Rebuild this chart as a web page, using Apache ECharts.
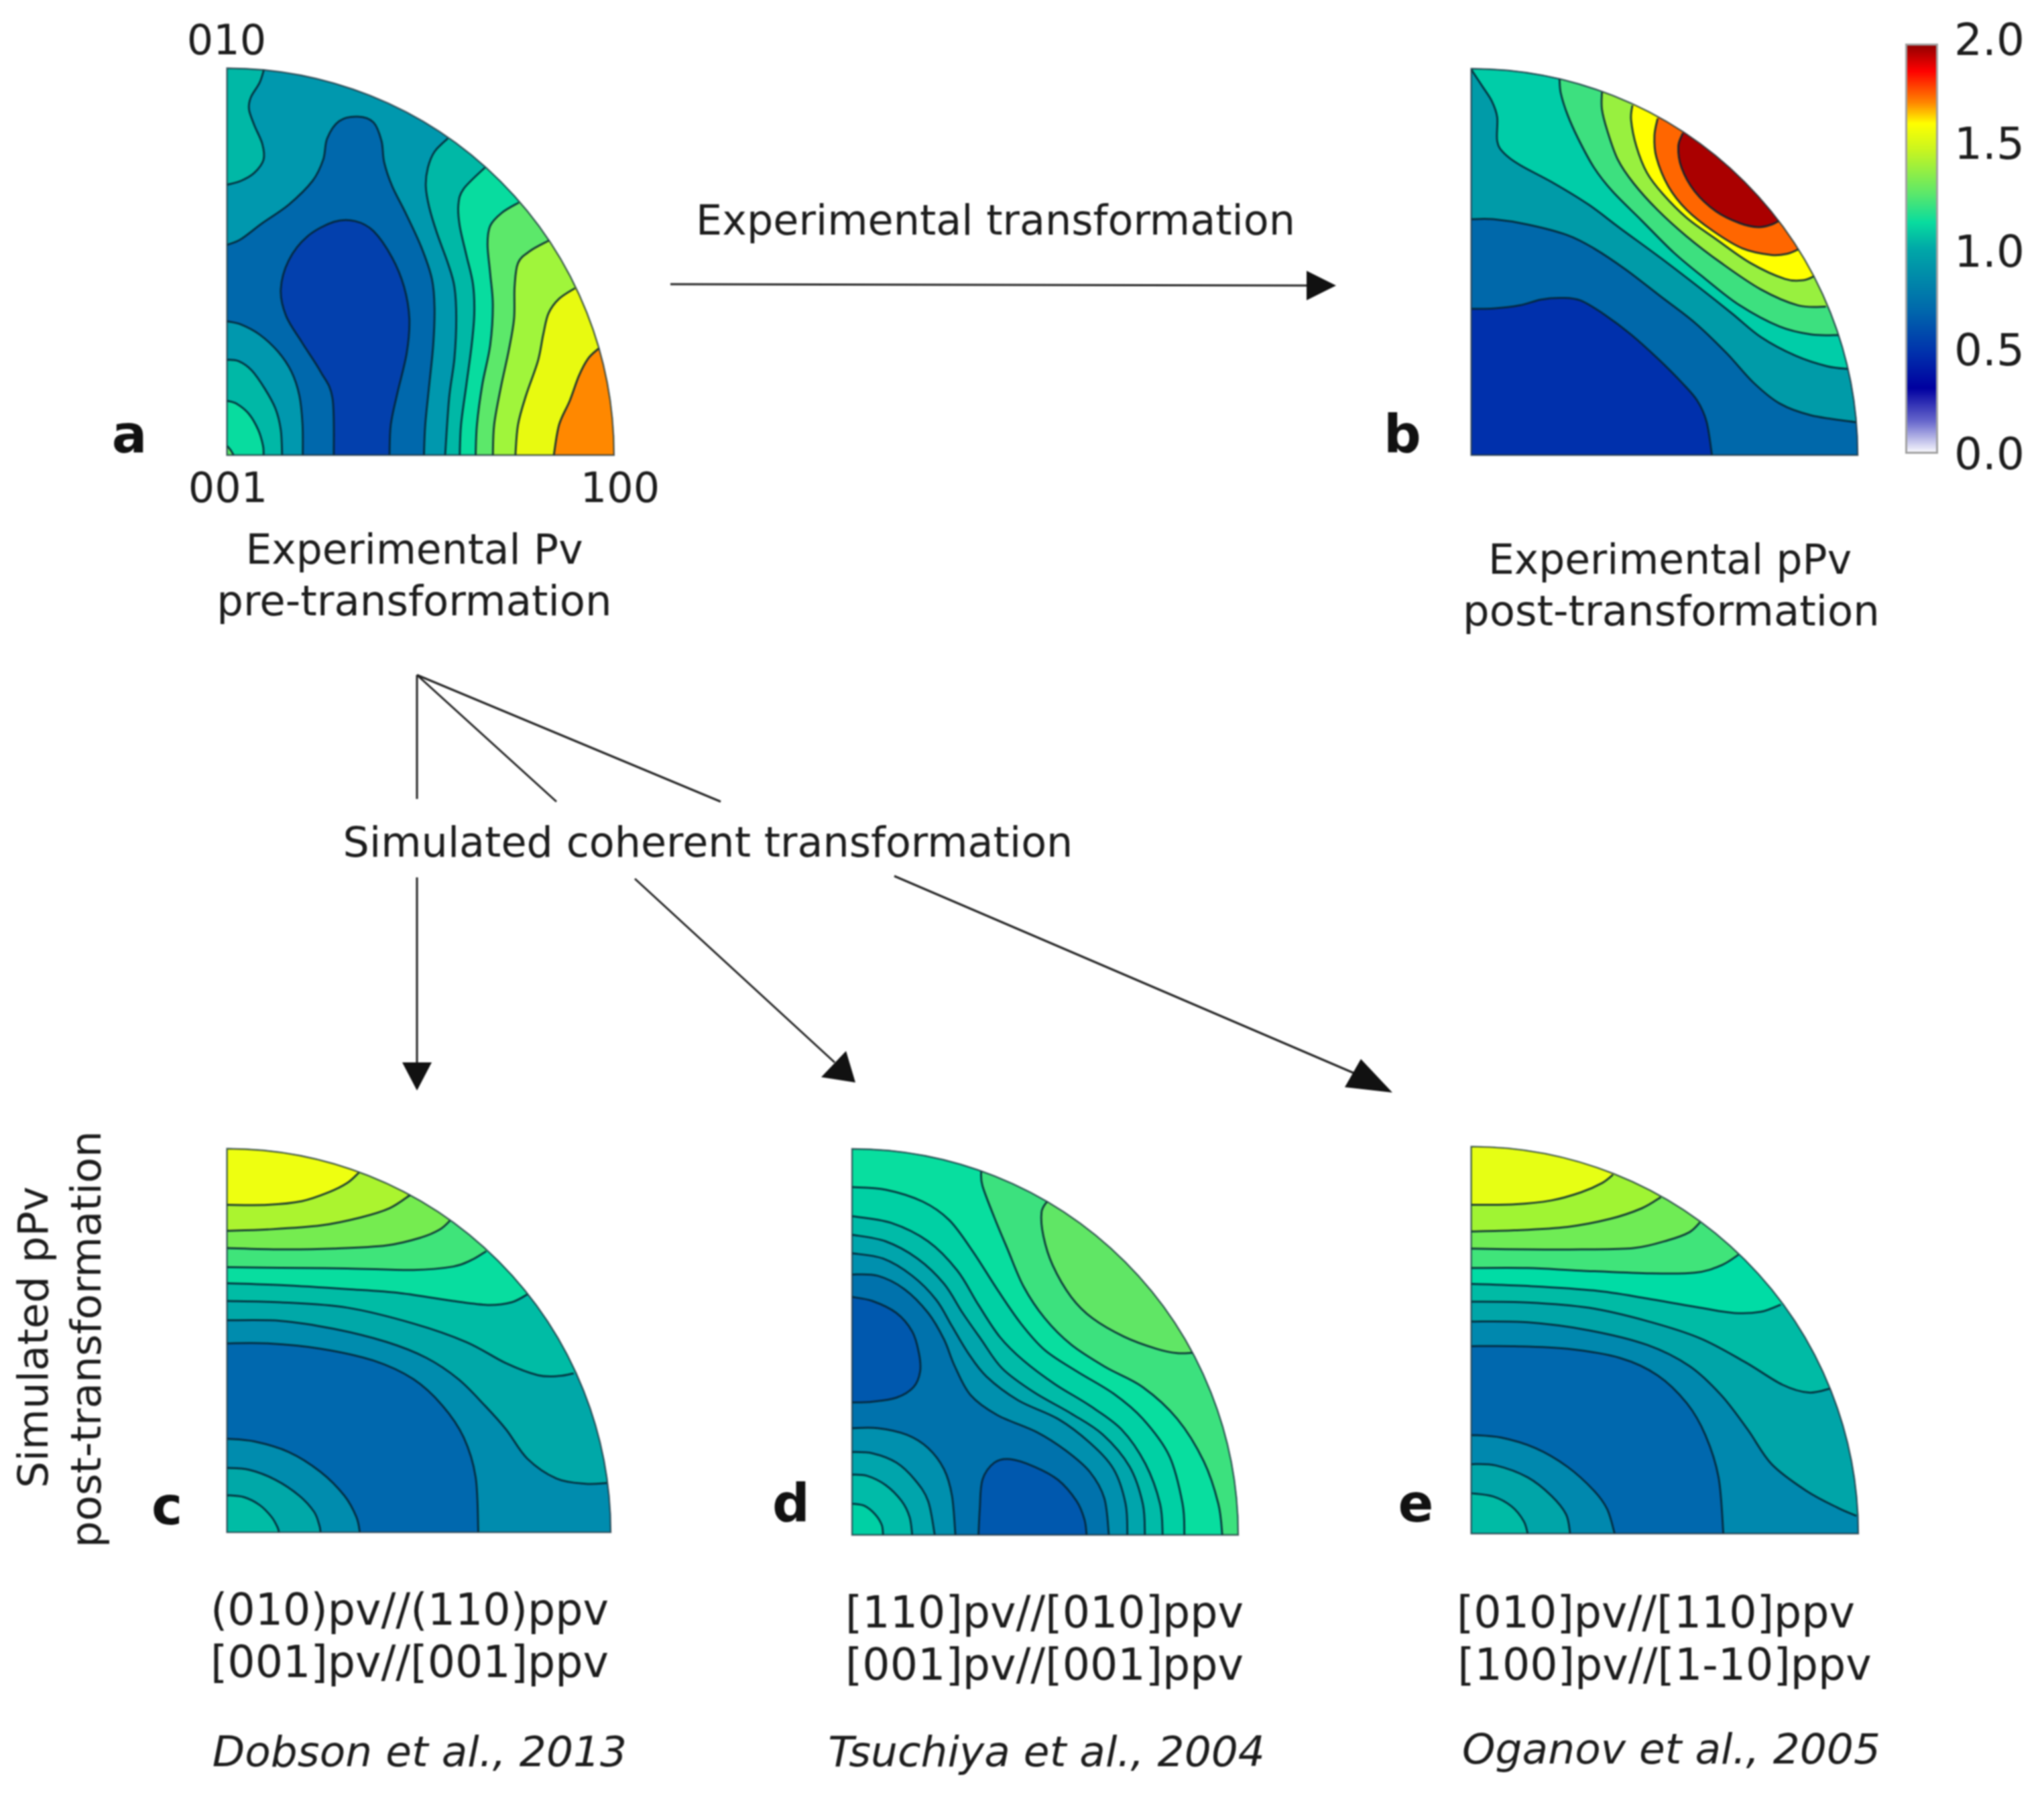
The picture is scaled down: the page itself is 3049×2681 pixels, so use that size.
<!DOCTYPE html>
<html><head><meta charset="utf-8">
<style>html,body{margin:0;padding:0;background:#fff}#c{width:3049px;height:2681px;filter:blur(0.9px)}</style>
<script src="https://cdn.jsdelivr.net/npm/echarts@6/dist/echarts.min.js"></script>
</head><body><div id="c"></div>
<script>
// Contours: [band, closure, [[x,y],...]] in each panel's digitising units.
const panelA_contours = [
 [3,'outer',[[47,495],[100,480],[150,450],[185,400],[180,340],[150,270],[130,210],[137,165],[170,110],[187,58]]],
 [1,'origin',[[47,722],[100,700],[180,640],[280,570],[370,480],[410,400],[425,320],[470,255],[540,238],[600,260],[630,330],[640,410],[670,500],[720,600],[780,730],[820,850],[830,960],[825,1100],[810,1250],[795,1400],[790,1515]]],
 [2,'origin',[[47,1010],[100,1022],[170,1060],[240,1125],[290,1200],[320,1290],[332,1400],[333,1515]]],
 [3,'origin',[[47,1155],[90,1160],[140,1195],[190,1265],[230,1340],[250,1420],[255,1515]]],
 [4,'origin',[[47,1310],[85,1322],[130,1360],[165,1420],[183,1480],[185,1515]]],
 [5,'origin',[[47,1480],[60,1495],[72,1515]]],
 [0,'flat',[[450,1515],[445,1300],[400,1200],[330,1090],[270,990],[250,890],[280,780],[350,690],[450,635],[530,632],[600,670],[670,770],[715,880],[735,1000],[725,1130],[690,1280],[665,1400],[660,1515]]],
 [3,'outer',[[880,320],[830,370],[805,430],[797,500],[810,580],[840,680],[880,790],[905,880],[912,1000],[905,1150],[885,1300],[870,1515]]],
 [4,'outer',[[1020,430],[940,510],[920,570],[925,650],[950,760],[975,870],[980,980],[970,1100],[950,1250],[930,1400],[925,1515]]],
 [5,'outer',[[1148,562],[1085,600],[1040,650],[1030,720],[1040,830],[1050,950],[1040,1100],[1010,1250],[990,1400],[985,1515]]],
 [6,'outer',[[1262,705],[1190,745],[1145,790],[1132,880],[1130,1000],[1110,1120],[1080,1260],[1055,1400],[1050,1515]]],
 [7,'outer',[[1360,885],[1300,925],[1260,980],[1240,1060],[1220,1160],[1175,1290],[1145,1400],[1135,1515]]],
 [8,'outer',[[1450,1112],[1410,1150],[1375,1215],[1340,1310],[1300,1400],[1280,1515]]]
];
const panelB_contours = [
 [1,'outer',[[37,963],[120,962],[220,950],[300,928],[380,922],[450,932],[540,985],[640,1060],[740,1150],[830,1240],[890,1310],[925,1390],[945,1515]]],
 [2,'outer',[[37,625],[120,625],[250,645],[400,685],[500,735],[620,815],[750,915],[880,1015],[1000,1130],[1100,1240],[1200,1320],[1320,1365],[1497,1392]]],
 [3,'outer',[[37,60],[80,125],[115,180],[135,240],[135,330],[160,375],[220,420],[350,490],[480,570],[600,660],[750,770],[900,885],[1020,980],[1130,1070],[1260,1140],[1380,1180],[1460,1190]]],
 [4,'outer',[[370,95],[375,150],[400,230],[440,320],[500,430],[570,520],[680,630],[800,750],[920,850],[1050,950],[1200,1030],[1320,1060],[1425,1062]]],
 [5,'outer',[[530,145],[530,210],[550,290],[590,400],[650,490],[740,590],[850,690],[980,790],[1130,890],[1270,950],[1375,955]]],
 [6,'outer',[[645,195],[640,250],[660,350],[700,450],[760,530],[850,620],[960,700],[1090,790],[1220,850],[1290,855],[1330,840]]],
 [7,'outer',[[740,245],[728,310],[735,390],[780,500],[850,590],[950,670],[1060,735],[1170,760],[1230,755],[1272,738]]],
 [8,'outer',[[835,300],[818,350],[830,430],[880,520],[960,595],[1050,640],[1120,655],[1170,645],[1200,630]]]
];
const panelC_contours = [
 [1,'outer',[[47,795],[200,795],[400,815],[600,860],[750,930],[860,1030],[940,1150],[985,1300],[995,1508]]],
 [2,'outer',[[47,708],[250,710],[450,740],[650,790],[800,850],[920,930],[1020,1030],[1100,1120],[1180,1230],[1290,1305],[1400,1325],[1480,1322]]],
 [3,'outer',[[47,635],[250,640],[500,660],[750,720],[950,790],[1100,870],[1220,915],[1300,918],[1355,908]]],
 [4,'outer',[[47,568],[250,575],[500,590],[700,605],[900,635],[1030,650],[1120,640],[1180,610]]],
 [5,'outer',[[47,507],[250,510],[500,512],[750,518],[900,505],[970,480],[1025,447]]],
 [6,'outer',[[47,435],[250,440],[450,437],[650,425],[780,395],[850,365],[888,332]]],
 [7,'outer',[[47,370],[200,365],[400,350],[550,320],[660,285],[738,235]]],
 [8,'outer',[[47,272],[200,272],[330,258],[430,225],[500,190],[545,150]]],
 [1,'origin',[[47,1155],[150,1165],[280,1205],[400,1280],[490,1370],[535,1450],[548,1508]]],
 [2,'origin',[[47,1265],[130,1272],[230,1310],[320,1370],[375,1430],[395,1480],[400,1508]]],
 [3,'origin',[[47,1368],[110,1375],[170,1405],[215,1450],[238,1490],[243,1508]]]
];
const panelD_contours = [
 [2,'outer',[[53,535],[150,540],[250,590],[340,680],[400,780],[440,880],[500,990],[600,1065],[750,1130],[860,1200],[950,1280],[1005,1380],[1022,1518]]],
 [3,'outer',[[53,455],[170,475],[280,540],[370,630],[430,730],[490,830],[560,920],[680,1010],[830,1080],[950,1170],[1040,1270],[1085,1400],[1092,1518]]],
 [4,'outer',[[53,385],[180,410],[300,475],[400,570],[470,680],[540,780],[620,890],[740,980],[880,1060],[1000,1140],[1100,1260],[1150,1400],[1158,1518]]],
 [5,'outer',[[53,315],[200,340],[340,410],[450,520],[530,650],[610,770],[700,860],[820,950],[950,1030],[1070,1120],[1160,1250],[1215,1400],[1225,1518]]],
 [6,'outer',[[53,205],[180,215],[320,260],[420,330],[510,450],[600,590],[690,720],[780,820],[900,900],[1040,985],[1150,1080],[1250,1220],[1300,1400],[1307,1518]]],
 [7,'outer',[[540,145],[545,200],[590,320],[640,440],[700,580],[780,700],[880,800],[1010,885],[1150,960],[1280,1080],[1380,1240],[1435,1400],[1450,1518]]],
 [8,'outer',[[790,258],[768,300],[775,390],[810,500],[880,620],[960,700],[1080,770],[1200,815],[1280,832],[1340,830]]],
 [0,'flat',[[53,620],[130,635],[220,680],[280,750],[305,830],[310,900],[285,960],[220,1000],[130,1015],[53,1018]]],
 [0,'flat',[[530,1518],[535,1420],[545,1310],[590,1245],[650,1232],[740,1260],[830,1310],[900,1390],[930,1460],[938,1518]]],
 [2,'origin',[[53,1115],[150,1115],[260,1140],[340,1190],[400,1270],[430,1370],[443,1518]]],
 [3,'origin',[[53,1205],[130,1210],[220,1245],[290,1310],[340,1390],[365,1518]]],
 [4,'origin',[[53,1290],[110,1295],[180,1330],[240,1390],[270,1450],[280,1518]]],
 [5,'origin',[[53,1400],[100,1408],[140,1440],[165,1480],[170,1518]]]
];
const panelE_contours = [
 [1,'outer',[[37,805],[200,805],[400,815],[600,850],[740,915],[850,1020],[920,1140],[970,1300],[988,1512]]],
 [2,'outer',[[37,712],[250,715],[480,745],[700,800],[860,880],[980,990],[1080,1120],[1170,1250],[1300,1350],[1420,1415],[1490,1445]]],
 [3,'outer',[[37,637],[250,640],[480,660],[700,710],[900,775],[1070,865],[1210,950],[1310,980],[1390,965]]],
 [4,'outer',[[37,570],[250,578],[500,595],[700,625],[900,660],[1030,680],[1130,675],[1205,648]]],
 [5,'outer',[[37,510],[250,510],[450,520],[700,530],[880,528],[980,500],[1045,460]]],
 [6,'outer',[[37,437],[250,440],[450,440],[650,435],[780,405],[860,375],[900,338]]],
 [7,'outer',[[37,372],[200,368],[400,355],[560,325],[680,285],[752,243]]],
 [8,'outer',[[37,272],[200,270],[340,255],[450,225],[530,190],[572,158]]],
 [1,'origin',[[37,1140],[150,1150],[280,1190],[400,1260],[500,1350],[550,1420],[578,1512]]],
 [2,'origin',[[37,1250],[130,1255],[250,1300],[340,1370],[395,1440],[410,1512]]],
 [3,'origin',[[37,1360],[120,1372],[190,1410],[235,1465],[250,1512]]]
];
// Band colours, low to high
const panelA_bands = ['#0340AD','#0068AC','#0098AE','#00B8A6','#08DC9F','#5CE86A','#A0F53B','#E8FA10','#FF8800'];
const panelB_bands = ['#0030AC','#0068AA','#009BA8','#00CDA8','#3DE07F','#98F03F','#FFFF00','#FF6600','#AA0000'];
const panelC_bands = ['#0068AE','#008CAE','#00A8A8','#00BCA5','#08DD9F','#3FE47A','#75EC50','#ABF42F','#EEFF10'];
const panelD_bands = ['#0058AE','#0072AC','#0090AE','#00A5AC','#00BBA8','#00D0A4','#08DE9F','#3CE17E','#60E665'];
const panelE_bands = ['#0068AE','#0088AE','#00A5A8','#00BBA5','#00DCA5','#40E47A','#6FEC55','#A0F433','#E6FF14'];
// Colour scale
const colorbarLabels = [0, 0.5, 1, 1.5, 2];
const colorbarTicks = [0.2, 0.4, 0.6, 0.8, 1, 1.2, 1.4, 1.6, 1.8];
const colorbarStops = [[0,'#8B0000'],[0.067,'#FF0000'],[0.145,'#FF8800'],[0.195,'#FFFF00'],[0.26,'#C8F520'],[0.365,'#5CE86A'],[0.436,'#08DC9F'],[0.5,'#00A8A8'],[0.65,'#0068AC'],[0.755,'#0030AC'],[0.84,'#0000A0'],[0.92,'#6666CC'],[1,'#FFFFFF']];

const panels = [
 {c:panelA_contours,b:panelA_bands,base:2,x:[47,1507],y:[55,1515],box:[338.6,101.7,577.3,577.3]},
 {c:panelB_contours,b:panelB_bands,base:0,x:[37,1497],y:[57,1515],box:[2194.6,102.5,577.4,576.5]},
 {c:panelC_contours,b:panelC_bands,base:0,x:[47,1495],y:[60,1508],box:[338.6,1713.7,572.6,572.4]},
 {c:panelD_contours,b:panelD_bands,base:1,x:[53,1510],y:[55,1518],box:[1271,1711.7,576,578.3]},
 {c:panelE_contours,b:panelE_bands,base:0,x:[37,1497],y:[52,1512],box:[2194.6,1710.6,577.4,577.4]}
];

const FONT = '"DejaVu Sans", Verdana, sans-serif';
const TEXT = '#1c1c1c';
const textItems = [
 ['010',338,65,62],['001',340,733,62],['100',925,733,62],
 ['Experimental Pv',618,825,61.5],['pre-transformation',618,902,62.5],
 ['Experimental transformation',1485,334,62],
 ['Experimental pPv',2491,840,61.5],['post-transformation',2493,917,62.5],
 ['Simulated coherent transformation',1056,1262,62],
 ['(010)pv//(110)ppv',611,2407,65],['[001]pv//[001]ppv',611,2485,65],
 ['[110]pv//[010]ppv',1558,2411,65],['[001]pv//[001]ppv',1558,2489,65],
 ['[010]pv//[110]ppv',2470,2411,65],['[100]pv//[1-10]ppv',2483,2489,65]
];
const italicItems = [['Dobson et al., 2013',626,2619],['Tsuchiya et al., 2004',1561,2619],['Oganov et al., 2005',2493,2615]];
const boldItems = [['a',193,655],['b',2092,655],['c',249,2254],['d',1180,2250],['e',2112,2250]];
const rotatedItems = [['Simulated pPv',55,1995],['post-transformation',134,1998]];
const stemLines = [[622,1007,622,1192],[622,1007,830,1196],[622,1007,1075,1196],[622,1309,622,1585],[947,1311,1245,1585],[1334,1307,2022,1602],[1000,424,1950,426]];
const arrowHeads = [[[622,1627],[600,1585],[644,1585]],[[1276,1615],[1225,1607],[1262,1568]],[[2077,1630],[2006,1622],[2030,1580]],[[1993,426],[1949,404],[1949,448]]];

function curvePath(P){
  let d='M'+P[0][0]+' '+P[0][1];
  for(let i=0;i<P.length-1;i++){
    const a=P[Math.max(i-1,0)],b=P[i],c=P[i+1],e=P[Math.min(i+2,P.length-1)];
    d+=' C'+(b[0]+(c[0]-a[0])/6)+' '+(b[1]+(c[1]-a[1])/6)+' '+(c[0]-(e[0]-b[0])/6)+' '+(c[1]-(e[1]-b[1])/6)+' '+c[0]+' '+c[1];
  }
  return d;
}
function sectorOf(p,api){
  const o=api.coord([p.x[0],p.y[1]]), e=api.coord([p.x[1],p.y[1]]), t=api.coord([p.x[0],p.y[0]]);
  return {cx:o[0],cy:o[1],r:Math.min(e[0]-o[0],o[1]-t[1]),r0:0,startAngle:-Math.PI/2,endAngle:0,clockwise:true};
}
function makeRender(p){
  return function(params,api){
    const sec=sectorOf(p,api), k=api.value(2);
    if(k===-1) return {type:'sector',shape:sec,style:{fill:p.b[p.base]}};
    if(k===-2) return {type:'sector',shape:sec,style:{fill:'none',stroke:'rgba(30,50,60,0.75)',lineWidth:2.4}};
    const ct=p.c[k], pts=ct[2].map(q=>api.coord(q)), line=curvePath(pts);
    const far=300, first=ct[2][0], last=ct[2][ct[2].length-1];
    let closing=[];
    if(ct[1]==='outer') closing=[[p.x[1]+far,last[1]],[p.x[1]+far,p.y[0]-far],[first[0],p.y[0]-far]];
    if(ct[1]==='origin') closing=[[p.x[0],p.y[1]]];
    const fillD=line+closing.map(q=>{const a=api.coord(q);return ' L'+a[0]+' '+a[1];}).join('')+' Z';
    return {type:'group',clipPath:{type:'sector',shape:sec},children:[
      {type:'path',shape:{pathData:fillD},style:{fill:p.b[ct[0]],stroke:null}},
      {type:'path',shape:{pathData:line},style:{fill:'none',stroke:'rgba(5,35,50,0.85)',lineWidth:3}}
    ]};
  };
}
const grids=[],xAxes=[],yAxes=[],series=[];
panels.forEach((p,i)=>{
  grids.push({left:p.box[0],top:p.box[1],width:p.box[2],height:p.box[3],containLabel:false});
  xAxes.push({type:'value',gridIndex:i,min:p.x[0],max:p.x[1],show:false});
  yAxes.push({type:'value',gridIndex:i,min:p.y[0],max:p.y[1],inverse:true,show:false});
  const data=[[p.x[0],p.y[1],-1]].concat(p.c.map((c,k)=>[c[2][0][0],c[2][0][1],k]),[[p.x[0],p.y[1],-2]]);
  series.push({type:'custom',coordinateSystem:'cartesian2d',xAxisIndex:i,yAxisIndex:i,data:data,renderItem:makeRender(p),silent:true,animation:false,clip:false});
});
// Colour bar: each tick label nudged to where the reference prints it
const labelRich={};
[[0,12],[0.5,8],[1,20],[1.5,4],[2,0]].forEach(e=>{labelRich['k'+Math.round(e[0]*10)]={fontFamily:FONT,fontSize:66,color:TEXT,padding:[e[1],0,0,0]};});
grids.push({left:2842,top:65,width:49,height:612,containLabel:false});
xAxes.push({type:'category',gridIndex:5,data:[''],show:false});
yAxes.push({type:'value',gridIndex:5,min:0,max:2,interval:0.5,position:'right',
  axisLine:{show:false},splitLine:{show:false},
  axisTick:{show:true,inside:true,length:16,customValues:colorbarTicks,lineStyle:{color:'rgba(30,60,40,0.55)',width:3}},
  axisLabel:{show:true,customValues:colorbarLabels,margin:24,fontFamily:FONT,fontSize:66,color:TEXT,rich:labelRich,
    formatter:v=>'{k'+Math.round(v*10)+'|'+Number(v).toFixed(1)+'}'}});
series.push({type:'bar',xAxisIndex:5,yAxisIndex:5,data:[2],barWidth:'100%',silent:true,animation:false,
  itemStyle:{borderColor:'#a0a0a0',borderWidth:3,color:new echarts.graphic.LinearGradient(0,0,0,1,colorbarStops.map(s=>({offset:s[0],color:s[1]})))}});

const gfx=[];
textItems.forEach(t=>gfx.push({type:'text',x:t[1],y:t[2],style:{text:t[0],fontFamily:FONT,fontSize:t[3],fill:TEXT,align:'center',verticalAlign:'middle'}}));
italicItems.forEach(t=>gfx.push({type:'text',x:t[1],y:t[2],style:{text:t[0],fontFamily:FONT,fontStyle:'italic',fontSize:63,fill:TEXT,align:'center',verticalAlign:'middle'}}));
boldItems.forEach(t=>gfx.push({type:'text',x:t[1],y:t[2],style:{text:t[0],fontFamily:FONT,fontWeight:'bold',fontSize:78,fill:'#111',align:'center',verticalAlign:'middle'}}));
rotatedItems.forEach(t=>gfx.push({type:'text',x:t[1],y:t[2],rotation:Math.PI/2,style:{text:t[0],fontFamily:FONT,fontSize:62.5,fill:TEXT,align:'center',verticalAlign:'middle'}}));
stemLines.forEach(l=>gfx.push({type:'line',shape:{x1:l[0],y1:l[1],x2:l[2],y2:l[3]},style:{stroke:'#222',lineWidth:3}}));
arrowHeads.forEach(h=>gfx.push({type:'polygon',shape:{points:h},style:{fill:'#111'}}));

const chart=echarts.init(document.getElementById('c'),null,{renderer:'canvas',width:3049,height:2681});
chart.setOption({backgroundColor:'#fff',animation:false,grid:grids,xAxis:xAxes,yAxis:yAxes,series:series,graphic:{elements:gfx}});
</script></body></html>
